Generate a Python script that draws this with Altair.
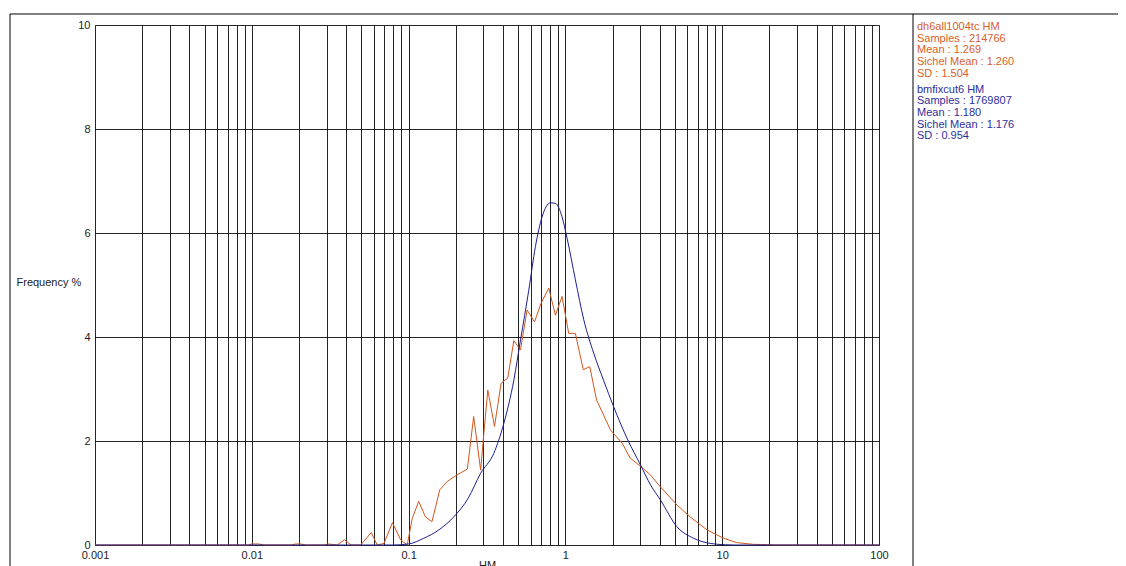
import altair as alt
import pandas as pd

# ---- data ----
hm_orange = [0.001, 0.0095, 0.01, 0.011, 0.012, 0.018, 0.019, 0.0205, 0.022, 0.029, 0.0305,
             0.033, 0.035, 0.039, 0.043, 0.0495, 0.0578, 0.063, 0.0697, 0.0788, 0.089, 0.098,
             0.1055, 0.116, 0.128, 0.141, 0.158, 0.176, 0.204, 0.237, 0.26, 0.288, 0.302,
             0.32, 0.353, 0.389, 0.429, 0.469, 0.517, 0.57, 0.635, 0.70, 0.783, 0.864, 0.952,
             1.05, 1.158, 1.30, 1.43, 1.58, 1.94, 2.3, 2.59, 3.0, 3.48, 4.03, 5.15, 6.24,
             8.0, 10.2, 12.4, 15.8, 17.5, 22.0, 100.0]
freq_orange = [0, 0, 0.02, 0.02, 0, 0, 0.02, 0.02, 0, 0, 0.02,
               0.01, 0, 0.1, 0, 0, 0.24, 0, 0.03, 0.43, 0.1, 0,
               0.51, 0.84, 0.54, 0.45, 1.06, 1.22, 1.35, 1.46, 2.47, 1.44, 2.15,
               2.98, 2.28, 3.11, 3.21, 3.93, 3.75, 4.52, 4.29, 4.65, 4.94, 4.42, 4.78,
               4.07, 4.07, 3.37, 3.43, 2.79, 2.21, 1.96, 1.67, 1.52, 1.35, 1.12, 0.77, 0.54,
               0.29, 0.13, 0.045, 0.013, 0.01, 0, 0]

hm_blue = [0.001, 0.01, 0.06, 0.08, 0.1, 0.125, 0.156, 0.194, 0.24, 0.288, 0.349, 0.405,
           0.469, 0.517, 0.584, 0.644, 0.71, 0.803, 0.864, 0.952, 1.025, 1.158, 1.31,
           1.515, 1.75, 2.03, 2.5, 3.0, 3.5, 4.03, 5.15, 6.57, 8.4, 10.5, 12.1, 100.0]
freq_blue = [0, 0, 0, 0, 0.02, 0.13, 0.29, 0.54, 0.9, 1.38, 1.76, 2.34,
             3.17, 3.94, 4.90, 5.74, 6.31, 6.58, 6.57, 6.31, 5.90, 5.10, 4.33,
             3.69, 3.17, 2.66, 2.02, 1.55, 1.15, 0.87, 0.35, 0.13, 0.03, 0.005, 0, 0]

legend_orange = ["dh6all1004tc HM", "Samples : 214766", "Mean : 1.269",
                 "Sichel Mean : 1.260", "SD : 1.504"]
legend_blue = ["bmfixcut6 HM", "Samples : 1769807", "Mean : 1.180",
               "Sichel Mean : 1.176", "SD : 0.954"]

x_grid = [float(f"{m}e{k}") for k in range(-3, 2) for m in range(1, 10)] + [100.0]
y_ticks = [0, 2, 4, 6, 8, 10]

ORANGE = "#D2561E"
BLUE = "#1E1E8C"
FONT = "Liberation Sans"

df_o = pd.DataFrame({"HM": hm_orange, "Freq": freq_orange})
df_b = pd.DataFrame({"HM": hm_blue, "Freq": freq_blue})
one = pd.DataFrame({"a": [0]})

x_enc = alt.X(
    "HM:Q",
    scale=alt.Scale(type="log", domain=[0.001, 100]),
    axis=alt.Axis(
        values=x_grid, grid=True, ticks=False, domain=False,
        labelExpr="indexof([0.001, 0.01, 0.1, 1, 10, 100], datum.value) >= 0 ? format(datum.value, '~g') : ''",
        labelOverlap=False, labelFlush=False, labelBound=False, labelPadding=4,
        title="HM", titleX=392, titleY=14, titleAlign="center", titleBaseline="top",
    ),
)
y_enc = alt.Y(
    "Freq:Q",
    scale=alt.Scale(domain=[0, 10], nice=False),
    axis=alt.Axis(
        values=y_ticks, grid=True, ticks=False, domain=False, labelPadding=5,
        title="Frequency %", titleAngle=0, titleX=-79, titleY=257,
        titleAlign="left", titleBaseline="middle",
    ),
)

orange = alt.Chart(df_o).mark_line(color=ORANGE, strokeWidth=1).encode(x=x_enc, y=y_enc)
blue = alt.Chart(df_b).mark_line(color=BLUE, strokeWidth=1, interpolate="monotone").encode(x=x_enc, y=y_enc)

top_line = alt.Chart(one).mark_rule(color="black", strokeWidth=1).encode(
    x=alt.value(-85), x2=alt.value(1023), y=alt.value(-11))
left_line = alt.Chart(one).mark_rule(color="black", strokeWidth=1).encode(
    x=alt.value(-85), y=alt.value(-11), y2=alt.value(545))
sep_line = alt.Chart(one).mark_rule(color="black", strokeWidth=1).encode(
    x=alt.value(818), y=alt.value(-11), y2=alt.value(545))

leg_o = alt.Chart(one).mark_text(
    text=legend_orange, align="left", baseline="alphabetic", font=FONT,
    fontSize=11, lineHeight=11.7, color="#D9602A",
).encode(x=alt.value(822), y=alt.value(5))
leg_b = alt.Chart(one).mark_text(
    text=legend_blue, align="left", baseline="alphabetic", font=FONT,
    fontSize=11, lineHeight=11.7, color="#2E2E9E",
).encode(x=alt.value(822), y=alt.value(67.5))

chart = alt.layer(orange, blue, top_line, left_line, sep_line, leg_o, leg_b).properties(
    width=784, height=520,
    autosize=alt.AutoSizeParams(type="none"),
    padding={"left": 87, "top": 17, "right": 239, "bottom": 21},
).configure_view(stroke=None).configure_axis(
    labelFont=FONT, labelFontSize=11, labelColor="#222222",
    titleFont=FONT, titleFontSize=11, titleFontWeight="normal", titleColor="#222222",
    gridColor="#000000", gridOpacity=0.85, gridWidth=1,
)

chart.save("out.html", embed_options={"renderer": "svg", "actions": False})
